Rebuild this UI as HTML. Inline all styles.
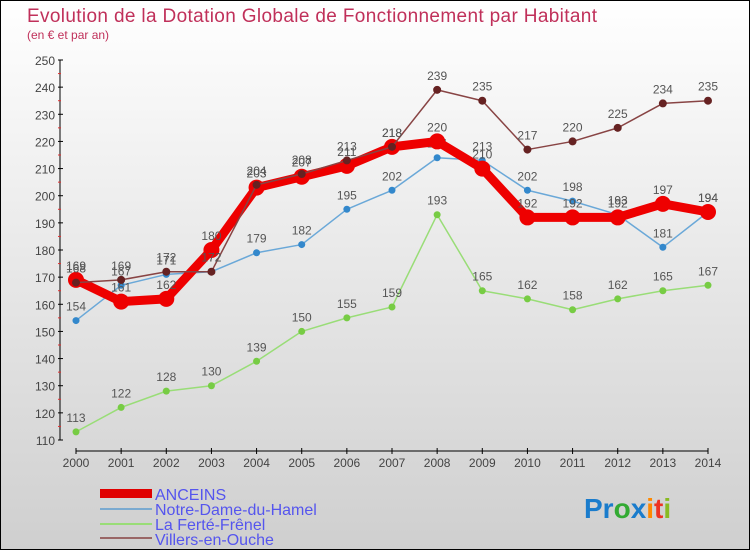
<!DOCTYPE html>
<html><head><meta charset="utf-8"><style>
html,body{margin:0;padding:0}
body{width:750px;height:550px;overflow:hidden;font-family:"Liberation Sans",sans-serif}
</style></head><body>
<svg width="750" height="550" xmlns="http://www.w3.org/2000/svg" font-family="Liberation Sans, sans-serif">
<defs><linearGradient id="bg" x1="0" y1="0" x2="0" y2="1"><stop offset="0" stop-color="#ffffff"/><stop offset="1" stop-color="#cfcfcf"/></linearGradient></defs>
<rect x="0.5" y="0.5" width="749" height="549" fill="url(#bg)" stroke="#000"/>
<text x="27" y="22" font-size="19" fill="#c0305a" textLength="570">Evolution de la Dotation Globale de Fonctionnement par Habitant</text>
<text x="27" y="39" font-size="12" fill="#c0305a">(en € et par an)</text>
<g id="axes"></g>
<g id="series"></g>
<g id="legend">
<rect x="100" y="489" width="52" height="9" fill="#e00000"/>
<text x="155" y="500" font-size="16" fill="#5555ee">ANCEINS</text>
<line x1="100" y1="509" x2="152" y2="509" stroke="#7aaad0" stroke-width="2"/>
<text x="155" y="515" font-size="16" fill="#5555ee">Notre-Dame-du-Hamel</text>
<line x1="100" y1="524" x2="152" y2="524" stroke="#99dd77" stroke-width="2"/>
<text x="155" y="530" font-size="16" fill="#5555ee">La Ferté-Frênel</text>
<line x1="100" y1="538" x2="152" y2="538" stroke="#996666" stroke-width="2"/>
<text x="155" y="545" font-size="16" fill="#5555ee">Villers-en-Ouche</text>
</g>
<text x="584" y="518" font-size="28" font-weight="bold"><tspan fill="#1a7ccc">Pr</tspan><tspan fill="#33aa33">o</tspan><tspan fill="#1a7ccc">x</tspan><tspan fill="#ff8800">i</tspan><tspan fill="#ee3322">t</tspan><tspan fill="#88bb22">i</tspan></text>
</svg>
<script>
const years=[2000,2001,2002,2003,2004,2005,2006,2007,2008,2009,2010,2011,2012,2013,2014];
const anceins=[169,161,162,180,203,207,211,218,220,210,192,192,192,197,194];
const notreDame=[154,167,171,172,179,182,195,202,214,213,202,198,193,181,194];
const laFerte=[113,122,128,130,139,150,155,159,193,165,162,158,162,165,167];
const villers=[168,169,172,172,204,208,213,218,239,235,217,220,225,234,235];
const yTicks=[110,120,130,140,150,160,170,180,190,200,210,220,230,240,250];
const NS="http://www.w3.org/2000/svg";
const X=i=>76+i*(632/14);
const Y=v=>440-(v-110)*(380/140);
function mk(t,a,p){const e=document.createElementNS(NS,t);for(const k in a)e.setAttribute(k,a[k]);p.appendChild(e);return e;}
const ax=document.getElementById('axes');
mk('line',{x1:60,y1:60,x2:60,y2:440,stroke:'#000'},ax);
mk('line',{x1:76,y1:451,x2:708,y2:451,stroke:'#000'},ax);
yTicks.forEach(v=>{
 mk('line',{x1:58,y1:Y(v),x2:63,y2:Y(v),stroke:'#000'},ax);
 if(v<250)mk('line',{x1:58,y1:Y(v+5),x2:61,y2:Y(v+5),stroke:'#e03030'},ax);
 const t=mk('text',{x:55,y:Y(v)+5,'font-size':12,fill:'#444','text-anchor':'end'},ax);
 t.textContent=v;
 
 
});
years.forEach((yr,i)=>{
 mk('line',{x1:X(i),y1:448,x2:X(i),y2:454,stroke:'#000'},ax);
 const t=mk('text',{x:X(i),y:467,'font-size':12,fill:'#444','text-anchor':'middle'},ax);
 t.textContent=yr;
 
 
});
const sg=document.getElementById('series');
function draw(vals,color,w,r,dot,name){
 const g=mk('g',{},sg);
 
 
 mk('polyline',{points:vals.map((v,i)=>X(i)+','+Y(v)).join(' '),fill:'none',stroke:color,'stroke-width':w,'stroke-linejoin':'round'},g);
 vals.forEach((v,i)=>{
  const c=mk('circle',{cx:X(i),cy:Y(v),r:r,fill:dot},g);
  
  
  const t=mk('text',{x:X(i),y:Y(v)-10,'font-size':12,fill:'#555','text-anchor':'middle'},g);
  t.textContent=v;
 });
}
draw(laFerte,'#99dd77',1.5,3.5,'#77cc44','series-la-ferte');
draw(notreDame,'#6aa8d8',1.5,3.5,'#3388cc','series-notre-dame');
draw(anceins,'#ee0000',9,8,'#ee0000','series-anceins');
draw(villers,'#884444',1.5,4,'#662222','series-villers');
</script>
</body></html>
